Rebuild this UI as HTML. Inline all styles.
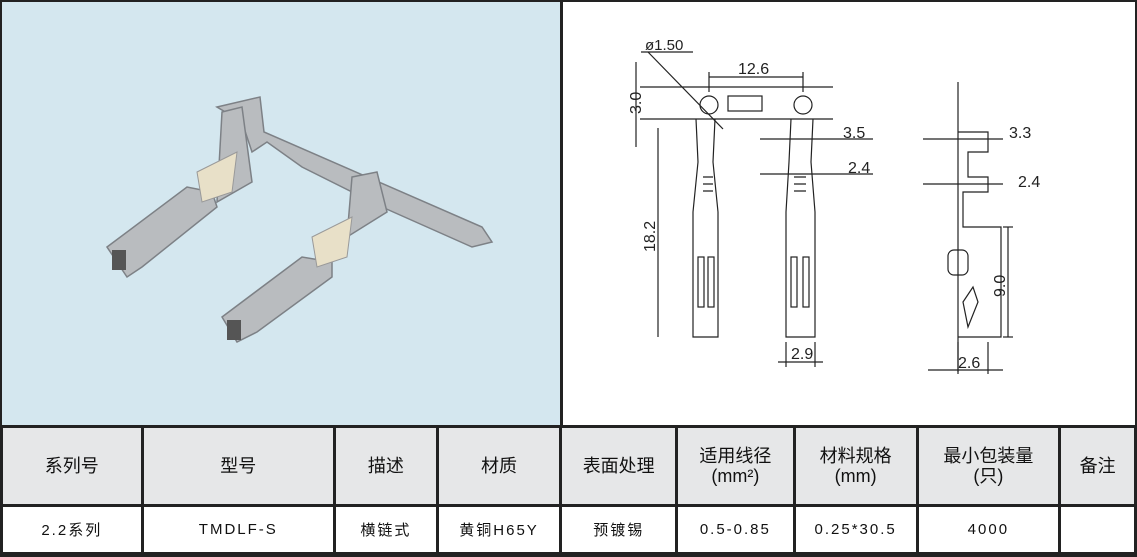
<!DOCTYPE html>
<html><head><meta charset="utf-8"><style>
body{margin:0;width:1137px;height:557px;background:#fff;overflow:hidden;font-family:"Liberation Sans","Noto Sans CJK SC",sans-serif}
#wrap{position:absolute;left:0;top:0;width:1137px;height:557px}
.photo{position:absolute;left:2px;top:2px;width:558px;height:423px;background:#d4e7ef}
table{position:absolute;left:0;top:425px;border-collapse:collapse;width:1137px}
td{border:3px solid #222;text-align:center;font-size:18px;color:#111;padding:0}
tr.h td{background:#e6e7e8;height:76px;line-height:20px}
tr.d td{height:45px;font-size:15px;letter-spacing:2px}
</style></head><body><div id="wrap">
<div style="position:absolute;left:0;top:0;width:1137px;height:557px;box-sizing:border-box;border:2px solid #222"></div>
<div class="photo">
<svg width="558" height="423">
<g fill="#b9bcbf" stroke="#7d8186" stroke-width="1.5">
<polygon points="215,105 258,95 262,130 480,225 490,240 470,245 380,205 300,165 265,140 250,150 240,120"/>
<polygon points="220,110 240,105 250,180 215,200"/>
<polygon points="105,245 185,185 210,190 215,205 140,265 125,275"/>
<polygon points="350,175 375,170 385,210 345,235"/>
<polygon points="220,315 300,255 330,260 330,275 255,330 235,340"/>
</g>
<g fill="#e8e0c8" stroke="#999"><polygon points="195,170 235,150 230,190 200,200"/><polygon points="310,235 350,215 345,255 315,265"/></g>
<g fill="#555"><rect x="110" y="248" width="14" height="20"/><rect x="225" y="318" width="14" height="20"/></g>
</svg></div>
<div style="position:absolute;left:560px;top:2px;width:3px;height:423px;background:#222"></div>
<svg style="position:absolute;left:563px;top:2px" width="572" height="423" font-family="Liberation Sans" font-size="16" fill="none" stroke="#222" stroke-width="1.2">
<line x1="77" y1="85" x2="270" y2="85"/><line x1="77" y1="117" x2="270" y2="117"/>
<circle cx="146" cy="103" r="9"/><rect x="165" y="94" width="34" height="15"/><circle cx="240" cy="103" r="9"/>
<line x1="146" y1="75" x2="240" y2="75"/><line x1="146" y1="70" x2="146" y2="90"/><line x1="240" y1="70" x2="240" y2="90"/>
<line x1="73" y1="60" x2="73" y2="145"/><line x1="95" y1="126" x2="95" y2="335"/>
<line x1="85" y1="50" x2="160" y2="127"/><line x1="78" y1="50" x2="130" y2="50"/>
<path d="M133 117 L135 160 L130 210 L130 335 L155 335 L155 210 L150 160 L152 117"/>
<path d="M228 117 L226 160 L223 210 L223 335 L252 335 L252 210 L248 160 L250 117"/>
<path d="M140 175h10M140 182h10M140 189h10M231 175h12M231 182h12M231 189h12"/>
<rect x="135" y="255" width="6" height="50"/><rect x="145" y="255" width="6" height="50"/>
<rect x="228" y="255" width="6" height="50"/><rect x="240" y="255" width="6" height="50"/>
<line x1="197" y1="137" x2="310" y2="137"/><line x1="197" y1="172" x2="310" y2="172"/>
<line x1="223" y1="340" x2="223" y2="365"/><line x1="252" y1="340" x2="252" y2="365"/><line x1="215" y1="360" x2="260" y2="360"/>
<path d="M395 80 L395 370 M395 130 L425 130 L425 150 L405 150 L405 175 L425 175 L425 190 L400 190 L400 225 L438 225 L438 335 L395 335"/>
<rect x="385" y="248" width="20" height="25" rx="6"/><path d="M400 300 L410 285 L415 300 L405 325 Z"/>
<line x1="360" y1="137" x2="440" y2="137"/><line x1="360" y1="182" x2="440" y2="182"/>
<line x1="440" y1="225" x2="450" y2="225"/><line x1="440" y1="335" x2="450" y2="335"/><line x1="445" y1="225" x2="445" y2="335"/>
<line x1="395" y1="340" x2="395" y2="372"/><line x1="425" y1="340" x2="425" y2="372"/><line x1="365" y1="368" x2="440" y2="368"/>
<g fill="#222" stroke="none">
<text x="82" y="48" font-size="15">ø1.50</text><text x="175" y="72">12.6</text>
<text x="280" y="136">3.5</text><text x="285" y="171">2.4</text><text x="228" y="357">2.9</text>
<text x="446" y="136">3.3</text><text x="455" y="185">2.4</text><text x="395" y="366">2.6</text>
<text transform="translate(78,112) rotate(-90)">3.0</text><text transform="translate(92,250) rotate(-90)">18.2</text>
<text transform="translate(442,295) rotate(-90)">9.0</text></g>
</svg>
<table>
<colgroup><col style="width:141px"><col style="width:193px"><col style="width:103px"><col style="width:124px"><col style="width:116px"><col style="width:118px"><col style="width:123px"><col style="width:143px"><col style="width:76px"></colgroup>
<tr class="h"><td>系列号</td><td>型号</td><td>描述</td><td>材质</td><td>表面处理</td><td>适用线径<br>(mm²)</td><td>材料规格<br>(mm)</td><td>最小包装量<br>(只)</td><td>备注</td></tr>
<tr class="d"><td>2.2系列</td><td>TMDLF-S</td><td>横链式</td><td>黄铜H65Y</td><td>预镀锡</td><td>0.5-0.85</td><td>0.25*30.5</td><td>4000</td><td></td></tr>
</table>
</div></body></html>
